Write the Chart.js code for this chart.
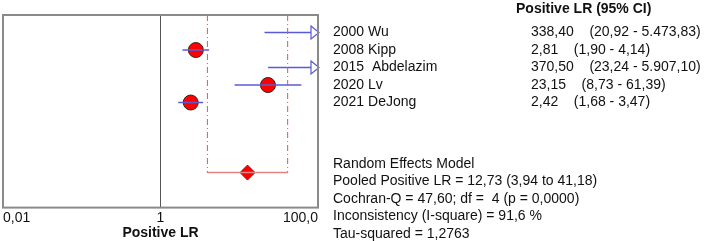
<!DOCTYPE html>
<html lang="en">
<head>
    <meta charset="UTF-8">
    <title>Positive LR forest plot</title>
    <script src="https://cdn.jsdelivr.net/npm/chart.js"></script>
    <style>
        html, body { margin: 0; padding: 0; background: #fff; }
        #wrap { width: 709px; height: 241px; }
    </style>
</head>
<body>
    <div id="wrap"><canvas id="forestChart"></canvas></div>

    <script>
        // Study data
        const studies = ['2000 Wu', '2008 Kipp', '2015  Abdelazim', '2020 Lv', '2021 DeJong'];
        const lr = [338.40, 2.81, 370.50, 23.15, 2.42];
        const lower = [20.92, 1.90, 23.24, 8.73, 1.68];
        const upper = [5473.83, 4.14, 5907.10, 61.39, 3.47];
        const lrText = ['338,40', '2,81', '370,50', '23,15', '2,42'];
        const ciText = ['(20,92 - 5.473,83)', '(1,90 - 4,14)', '(23,24 - 5.907,10)', '(8,73 - 61,39)', '(1,68 - 3,47)'];

        // Pooled estimate
        const pooled = 12.73;
        const pooledLower = 3.94;
        const pooledUpper = 41.18;
        const pooledRow = 9;

        const statLines = [
            'Random Effects Model',
            'Pooled Positive LR = 12,73 (3,94 to 41,18)',
            'Cochran-Q = 47,60; df =  4 (p = 0,0000)',
            'Inconsistency (I-square) = 91,6 %',
            'Tau-squared = 1,2763'
        ];

        const tickValues = [0.01, 1, 100];
        const tickLabels = ['0,01', '1', '100,0'];
        const xMin = 0.01, xMax = 100;

        const FONT = '"Liberation Sans", Arial, sans-serif';
        const ciColor = '#5a5ad8';
        const redLine = '#e05555';

        const datasets = [];

        // line of no effect at 1
        datasets.push({
            type: 'line', data: [{x: 1, y: 0}, {x: 1, y: 11}],
            borderColor: '#555', borderWidth: 1, pointRadius: 0
        });

        // pooled CI: dash-dot verticals and solid base line
        [pooledLower, pooledUpper].forEach(v => {
            datasets.push({
                type: 'line', data: [{x: v, y: 0}, {x: v, y: pooledRow}],
                borderColor: redLine, borderWidth: 1, borderDash: [6, 3, 1, 3], pointRadius: 0
            });
        });
        datasets.push({
            type: 'line', data: [{x: pooledLower, y: pooledRow}, {x: pooledUpper, y: pooledRow}],
            borderColor: '#e08585', borderWidth: 1.5, pointRadius: 0
        });

        // study confidence intervals
        studies.forEach((s, i) => {
            datasets.push({
                type: 'line', data: [{x: lower[i], y: i + 1}, {x: upper[i], y: i + 1}],
                borderColor: ciColor, borderWidth: 1.5, pointRadius: 0
            });
        });

        // study point estimates (only the ones inside the axis range)
        datasets.push({
            type: 'scatter',
            data: lr.map((v, i) => ({x: v, y: i + 1})).filter(p => p.x <= xMax),
            pointRadius: 7.5, pointHoverRadius: 7.5,
            backgroundColor: '#ff0000', borderColor: '#402020', borderWidth: 1
        });

        // pooled diamond
        datasets.push({
            type: 'scatter', data: [{x: pooled, y: pooledRow}],
            pointStyle: 'rectRot', pointRadius: 7.5,
            backgroundColor: '#ff0000', borderColor: '#b00000', borderWidth: 1
        });

        // frame, arrows for off-scale studies and the text columns
        const forestPlugin = {
            id: 'forestText',
            afterDatasetsDraw(chart) {
                const ctx = chart.ctx;
                const area = chart.chartArea;
                const xs = chart.scales.x, ys = chart.scales.y;
                ctx.save();

                // arrowheads where the interval runs past the axis
                ctx.strokeStyle = ciColor;
                ctx.fillStyle = '#fff';
                ctx.lineWidth = 1.2;
                upper.forEach((u, i) => {
                    if (u <= xMax) return;
                    const tip = xs.getPixelForValue(xMax) + 1;
                    const y = ys.getPixelForValue(i + 1);
                    ctx.beginPath();
                    ctx.moveTo(tip - 8, y - 6.5);
                    ctx.lineTo(tip, y);
                    ctx.lineTo(tip - 8, y + 6.5);
                    ctx.closePath();
                    ctx.fill();
                    ctx.stroke();
                });

                // plot frame
                ctx.strokeStyle = '#8a8a8a';
                ctx.lineWidth = 2;
                ctx.strokeRect(area.left, area.top, area.right - area.left, area.bottom - area.top);

                // right side texts
                ctx.fillStyle = '#111';
                ctx.textBaseline = 'middle';
                ctx.textAlign = 'left';
                ctx.font = 'bold 14px ' + FONT;
                ctx.fillText('Positive LR (95% CI)', 516, ys.getPixelForValue(-0.35));

                ctx.font = '14px ' + FONT;
                studies.forEach((s, i) => {
                    const y = ys.getPixelForValue(i + 1);
                    ctx.fillText(s, 333, y);
                    ctx.fillText(lrText[i] + '    ' + ciText[i], 531, y);
                });

                statLines.forEach((line, k) => {
                    ctx.fillText(line, 333, ys.getPixelForValue(8.5 + k));
                });
                ctx.restore();
            }
        };

        new Chart(document.getElementById('forestChart'), {
            type: 'scatter',
            data: { datasets: datasets },
            options: {
                responsive: true,
                maintainAspectRatio: false,
                animation: false,
                events: [],
                layout: { autoPadding: false, padding: { left: 3, top: 15, right: 391, bottom: 0 } },
                plugins: { legend: { display: false }, tooltip: { enabled: false } },
                scales: {
                    x: {
                        type: 'logarithmic',
                        min: xMin,
                        max: xMax,
                        afterBuildTicks: axis => {
                            axis.ticks = tickValues.map(v => ({ value: v }));
                        },
                        ticks: {
                            align: 'inner',
                            maxRotation: 0,
                            autoSkip: false,
                            padding: 2,
                            color: '#111',
                            font: { family: FONT, size: 14 },
                            callback: (value) => tickLabels[tickValues.indexOf(value)]
                        },
                        grid: { display: false, drawTicks: false },
                        border: { display: false },
                        title: {
                            display: true,
                            text: 'Positive LR',
                            color: '#111',
                            padding: { top: -2, bottom: 2 },
                            font: { family: FONT, size: 14, weight: 'bold', lineHeight: 0.9 }
                        }
                    },
                    y: {
                        type: 'linear',
                        min: 0,
                        max: 11,
                        reverse: true,
                        display: false
                    }
                }
            },
            plugins: [forestPlugin]
        });
    </script>
</body>
</html>
